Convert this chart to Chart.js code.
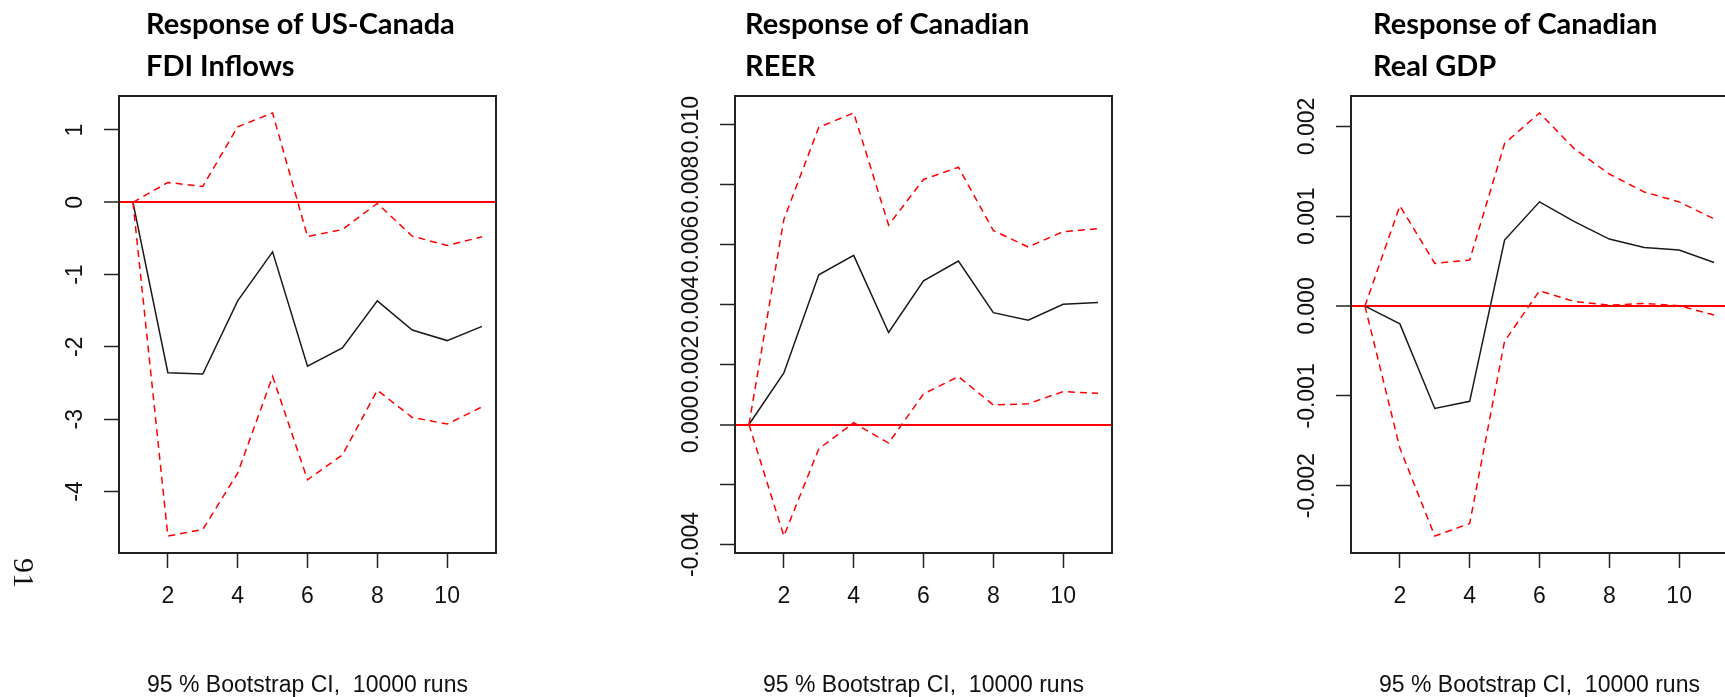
<!DOCTYPE html>
<html>
<head>
<meta charset="utf-8">
<script src="https://cdn.jsdelivr.net/npm/chart.js@4.4.1/dist/chart.umd.min.js"></script>
<style>
  html, body { margin: 0; padding: 0; background: #fff; overflow: hidden; width: 1725px; height: 697px; }
  canvas.panel { position: absolute; top: 0; }
  #pageNo {
    position: absolute; left: 24px; top: 573px;
    transform: translate(-50%, -50%) rotate(90deg);
    font: 30px "Liberation Serif", "DejaVu Serif", serif; color: #111; line-height: 1;
  }
</style>
</head>
<body>
<canvas id="fdi" class="panel" width="506" height="697" style="left:0px"></canvas>
<canvas id="reer" class="panel" width="506" height="697" style="left:616px"></canvas>
<canvas id="gdp" class="panel" width="506" height="697" style="left:1232px"></canvas>
<div id="pageNo">91</div>

<script>
// Impulse-response horizons
const steps = [1, 2, 3, 4, 5, 6, 7, 8, 9, 10, 11];
const stepTicks = [2, 4, 6, 8, 10];

// Response of US-Canada FDI inflows
const fdiIrf   = [0, -2.357, -2.376, -1.363, -0.685, -2.266, -2.014, -1.363, -1.766, -1.913, -1.716];
const fdiUpper = [0, 0.274, 0.219, 1.044, 1.236, -0.474, -0.377, -0.015, -0.469, -0.597, -0.478];
const fdiLower = [0, -4.617, -4.526, -3.746, -2.408, -3.838, -3.494, -2.600, -2.976, -3.068, -2.830];
const fdiTicks = [-4, -3, -2, -1, 0, 1];
const fdiTickLabels = ['-4', '-3', '-2', '-1', '0', '1'];

// Response of the Canadian REER
const reerIrf   = [0, 0.00172, 0.00499, 0.00564, 0.00307, 0.00479, 0.00545, 0.00373, 0.00348, 0.00401, 0.00407];
const reerUpper = [0, 0.00684, 0.00991, 0.01039, 0.00665, 0.00817, 0.00858, 0.00647, 0.00592, 0.00643, 0.00653];
const reerLower = [0, -0.00372, -0.00081, 0.00006, -0.00062, 0.00102, 0.00160, 0.00065, 0.00069, 0.00110, 0.00104];
const reerTicks = [-0.004, -0.002, 0, 0.002, 0.004, 0.006, 0.008, 0.010];
const reerTickLabels = ['-0.004', '', '0.000', '0.002', '0.004', '0.006', '0.008', '0.010'];

// Response of Canadian real GDP
const gdpIrf   = [0, -0.000198, -0.00114, -0.00106, 0.000735, 0.00116, 0.00094, 0.000746, 0.000653, 0.000624, 0.000486];
const gdpUpper = [0, 0.001116, 0.000475, 0.000513, 0.00181, 0.00215, 0.00175, 0.00147, 0.00127, 0.00116, 0.00097];
const gdpLower = [0, -0.00158, -0.00256, -0.00242, -0.00039, 0.00017, 0.00005, 0.00001, 0.00003, 0.000005, -0.0001];
const gdpTicks = [-0.002, -0.001, 0, 0.001, 0.002];
const gdpTickLabels = ['-0.002', '-0.001', '0.000', '0.001', '0.002'];

const panelTitles = [
  ['Response of US-Canada', 'FDI Inflows'],
  ['Response of Canadian', 'REER'],
  ['Response of Canadian', 'Real GDP']
];
const footNote = '95 % Bootstrap CI,  10000 runs';

// Layout (pixels)
const AXIS_W = 119, PLOT_W = 377, CANVAS_W = 506, CANVAS_H = 697;
const PLOT_TOP = 96, PLOT_BOTTOM = 553, TICK_LEN = 15;
const TITLE_BASELINES = [34, 76];
const LABEL_GAP = 28; // from the tick end to the centre of the rotated y labels

const tickFont = { family: '"Liberation Sans", Arial, sans-serif', size: 23 };
Chart.defaults.font.family = tickFont.family;
Chart.defaults.color = '#111';

function widestText(texts, font) {
  const c = document.createElement('canvas').getContext('2d');
  c.font = font.size + 'px ' + font.family;
  return Math.max(...texts.map(t => c.measureText(t).width));
}

// Frame around the plotting region
const plotFrame = {
  id: 'plotFrame',
  afterDatasetsDraw(chart) {
    const { ctx, chartArea: a } = chart;
    ctx.save();
    ctx.strokeStyle = '#222';
    ctx.lineWidth = 2;
    ctx.strokeRect(a.left, a.top, a.right - a.left, a.bottom - a.top);
    ctx.restore();
  }
};

// Two-line bold heading above each panel
const panelTitle = {
  id: 'panelTitle',
  afterDraw(chart, args, opts) {
    const { ctx, chartArea: a } = chart;
    ctx.save();
    ctx.font = 'bold ' + opts.size + 'px Lato, "Open Sans", sans-serif';
    ctx.fillStyle = '#000';
    ctx.textBaseline = 'alphabetic';
    ctx.textAlign = 'left';
    opts.lines.forEach((t, i) => ctx.fillText(t, a.left + opts.offset, TITLE_BASELINES[i]));
    ctx.restore();
  }
};

function makePanel(id, irf, upper, lower, yTicks, yLabels, title, titleOffset) {
  const all = irf.concat(upper, lower);
  const lo = Math.min(...all), hi = Math.max(...all);
  const yPad = (hi - lo) * 0.04;
  const xPad = (steps[steps.length - 1] - steps[0]) * 0.04;
  const widest = widestText(yLabels, tickFont);
  const pts = arr => steps.map((s, i) => ({ x: s, y: arr[i] }));
  const band = arr => ({
    data: pts(arr), borderColor: '#ff0000', borderWidth: 1.5, borderDash: [7, 5],
    pointRadius: 0, tension: 0, fill: false
  });

  new Chart(document.getElementById(id), {
    type: 'line',
    data: {
      datasets: [
        band(upper),
        band(lower),
        { data: pts(irf), borderColor: '#1a1a1a', borderWidth: 1.5, pointRadius: 0, tension: 0, fill: false }
      ]
    },
    options: {
      responsive: false,
      animation: false,
      devicePixelRatio: 1,
      events: [],
      layout: { padding: { left: 0, right: CANVAS_W - AXIS_W - PLOT_W, top: PLOT_TOP, bottom: 0 } },
      plugins: {
        legend: { display: false },
        tooltip: { enabled: false },
        title: { display: false },
        panelTitle: { lines: title, offset: titleOffset, size: 29 }
      },
      scales: {
        x: {
          type: 'linear',
          position: 'bottom',
          min: steps[0] - xPad,
          max: steps[steps.length - 1] + xPad,
          afterFit(s) { s.height = CANVAS_H - PLOT_BOTTOM; },
          afterBuildTicks(s) { s.ticks = stepTicks.map(v => ({ value: v })); },
          ticks: {
            autoSkip: false, minRotation: 0, maxRotation: 0, padding: 15,
            font: tickFont, color: '#111', callback: v => String(v)
          },
          grid: {
            drawOnChartArea: false, drawTicks: true, tickLength: TICK_LEN,
            tickColor: '#222', tickWidth: 1.5
          },
          border: { display: false },
          title: {
            display: true, text: footNote, font: tickFont, color: '#111',
            padding: { top: 0, bottom: -2 }
          }
        },
        y: {
          type: 'linear',
          position: 'left',
          min: lo - yPad,
          max: hi + yPad,
          afterFit(s) { s.width = AXIS_W; },
          afterBuildTicks(s) { s.ticks = yTicks.map(v => ({ value: v })); },
          ticks: {
            autoSkip: false, minRotation: 90, maxRotation: 90, crossAlign: 'center',
            padding: LABEL_GAP - widest / 2,
            font: tickFont, color: '#111',
            callback: (v, i) => yLabels[i]
          },
          grid: {
            drawOnChartArea: true, drawTicks: true, tickLength: TICK_LEN,
            tickColor: '#222', tickWidth: 1.5,
            color: c => (c.tick && c.tick.value === 0) ? '#ff0000' : 'rgba(0,0,0,0)',
            lineWidth: c => (c.tick && c.tick.value === 0) ? 2 : 1
          },
          border: { display: false }
        }
      }
    },
    plugins: [plotFrame, panelTitle]
  });
}

makePanel('fdi', fdiIrf, fdiUpper, fdiLower, fdiTicks, fdiTickLabels, panelTitles[0], 27);
makePanel('reer', reerIrf, reerUpper, reerLower, reerTicks, reerTickLabels, panelTitles[1], 10);
makePanel('gdp', gdpIrf, gdpUpper, gdpLower, gdpTicks, gdpTickLabels, panelTitles[2], 22);
</script>
</body>
</html>
